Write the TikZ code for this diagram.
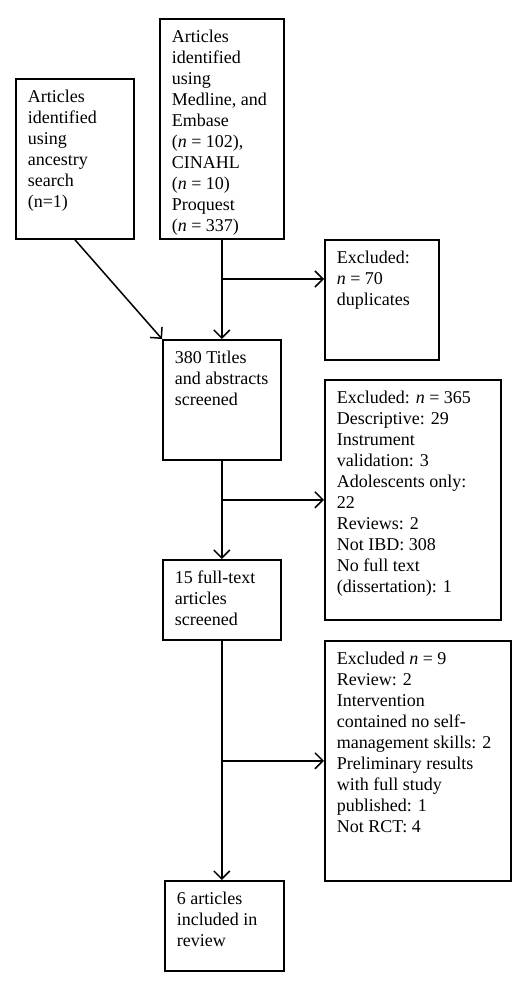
\documentclass[tikz,border=0pt]{standalone}
\usepackage{fontspec}
\setmainfont{Liberation Serif}
\usetikzlibrary{arrows.meta,positioning}
\newcommand{\boxtext}[3]{\parbox[c][#2][t]{#1}{\rule{0pt}{24pt}#3}}

\begin{document}
\begin{tikzpicture}[x=1pt,y=1pt,
  box/.style={draw,line width=1.6pt,anchor=north west,inner xsep=12pt,inner ysep=0pt,
    font=\fontsize{18}{21}\selectfont},
  flow/.style={line width=1.5pt,-{Straight Barb[length=8pt,width=16pt,line width=1.5pt]}}]
\useasboundingbox (0,0) rectangle (520,-982);
\node[box] (anc) at (15,-78) {\boxtext{94pt}{160pt}{Articles\\identified\\using\\ancestry\\search\\(n=1)}};
\node[box] (db) at (159,-18) {\boxtext{100pt}{220pt}{Articles\\identified\\using\\Medline, and\\Embase\\(\textit{n} = 102),\\CINAHL\\(\textit{n} = 10)\\Proquest\\(\textit{n} = 337)}};
\node[box] (dup) at (324,-239) {\boxtext{90pt}{120pt}{Excluded:\\\textit{n} = 70\\duplicates}};
\node[box] (titles) at (162,-339) {\boxtext{94pt}{120pt}{380 Titles\\and abstracts\\screened}};
\node[box] (exc1) at (324,-379) {\boxtext{152pt}{240pt}{Excluded: \textit{n} = 365\\Descriptive: 29\\Instrument\\validation: 3\\Adolescents only:\\22\\Reviews: 2\\Not IBD: 308\\No full text\\(dissertation): 1}};
\node[box] (full) at (162,-559) {\boxtext{94pt}{80pt}{15 full-text\\articles\\screened}};
\node[box] (exc2) at (324,-640) {\boxtext{162pt}{240pt}{Excluded \textit{n} = 9\\Review: 2\\Intervention\\contained no self-\\management skills: 2\\Preliminary results\\with full study\\published: 1\\Not RCT: 4}};
\node[box] (incl) at (164,-880) {\boxtext{95pt}{90pt}{6 articles\\included in\\review}};
\coordinate (b1) at (221,-279);
\draw[flow] (anc.south) -- (titles.north west);
\draw[flow] (db.south) -- (titles.north);
\draw[flow] (b1) -- (b1 -| dup.west);
\draw[flow] (titles.south) -- (full.north);
\draw[flow] (titles.south |- exc1.west) -- (exc1.west);
\draw[flow] (full.south) -- (full.south |- incl.north);
\draw[flow] (full.south |- exc2.west) -- (exc2.west);
\end{tikzpicture}
\end{document}
